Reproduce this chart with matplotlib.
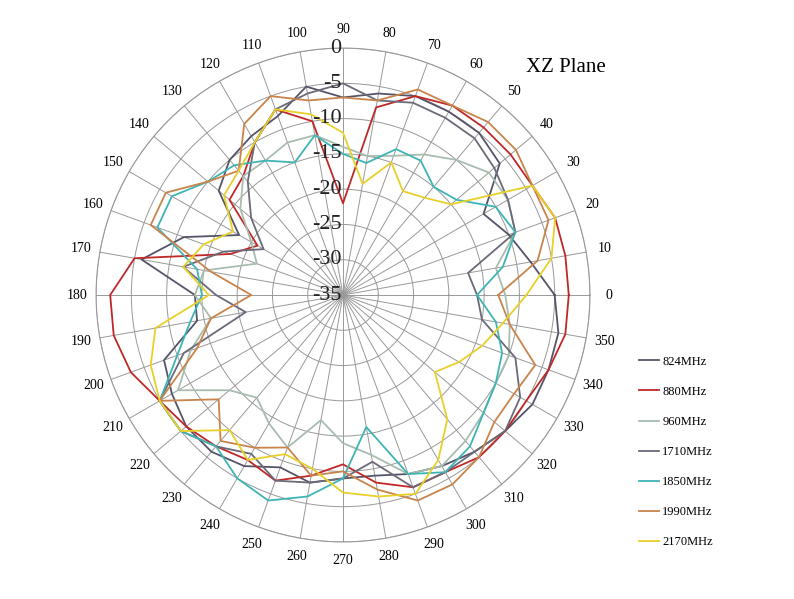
import numpy as np
import matplotlib.pyplot as plt

# angles in degrees, 0..350 step 10
angles = list(range(0, 360, 10))

# gain in dB, one value per angle
gain_824 = [-5, -8, -10, -12, -6, -5, -5, -5, -6, -7, -5, -8, -9, -10, -12, -18, -11, -6, -14, -14, -8, -7, -6, -6, -7, -9, -8, -9, -9, -8, -7, -6, -5, -4, -4, -4]
gain_880 = [-3, -3, -3, -4, -4, -4, -4, -5, -8, -22, -10, -7, -10, -13, -14, -21, -18, -5, -2, -2, -3, -5, -6, -7, -8, -7, -9, -11, -8, -6, -6, -5, -5, -5, -4, -3]
gain_960 = [-12, -13, -9, -8, -8, -10, -12, -14, -15, -14, -12, -12, -13, -13, -16, -20, -22, -15, -14, -16, -12, -8, -14, -16, -14, -12, -17, -14, -12, -8, -7, -8, -9, -10, -10, -11]
gain_1710 = [-16, -17, -9, -8, -7, -6, -6, -6, -7, -5, -6, -7, -10, -14, -18, -22, -17, -12, -17, -21, -11, -5, -5, -7, -9, -7, -8, -9, -11, -6, -6, -6, -5, -6, -9, -15]
gain_1850 = [-16, -12, -9, -10, -14, -15, -13, -13, -16, -15, -12, -15, -13, -11, -10, -7, -7, -14, -15, -13, -10, -5, -5, -7, -5, -4, -6, -9, -16, -8, -6, -7, -9, -10, -11, -13]
gain_1990 = [-13, -7, -4, -4, -3, -3, -4, -4, -7, -7, -7, -5, -7, -12, -10, -6, -6, -16, -22, -16, -13, -5, -12, -8, -10, -12, -9, -10, -7, -4, -4, -5, -7, -7, -6, -11]
gain_2170 = [-9, -5, -3, -4, -15, -17, -18, -15, -19, -12, -9, -7, -10, -12, -13, -17, -14, -12, -16, -8, -6, -5, -5, -10, -8, -11, -10, -7, -6, -5, -8, -12, -18, -16, -14, -12]

labels = ['824MHz', '880MHz', '960MHz', '1710MHz', '1850MHz', '1990MHz', '2170MHz']
colors = ['#55556a', '#c02828', '#a8bcb0', '#6a6a78', '#3fb4b4', '#c8844a', '#e8d028']
series = [gain_824, gain_880, gain_960, gain_1710, gain_1850, gain_1990, gain_2170]

serif = 'Liberation Serif'

fig = plt.figure(figsize=(7.94, 5.99), dpi=100)
ax = fig.add_axes([0.121, 0.095, 0.622, 0.825], projection='polar')

theta = np.deg2rad(angles + [angles[0]])
for vals, col, lab in zip(series, colors, labels):
    ax.plot(theta, vals + [vals[0]], color=col, lw=1.3, label=lab)

ax.set_ylim(-35, 0)
ax.set_yticks(range(-35, 1, 5))
ax.set_yticklabels([])
ax.set_thetagrids(range(0, 360, 10), [str(a) for a in range(0, 360, 10)],
                  fontsize=10, family=serif)
ax.tick_params(axis='x', pad=3)
ax.grid(color='#999999', lw=0.7)
ax.spines['polar'].set_color('#999999')
ax.spines['polar'].set_linewidth(0.8)

# radial value labels along the 90 degree spoke
for r in range(-35, 1, 5):
    ax.annotate(str(r), xy=(np.pi / 2, r), xytext=(-1, 0), textcoords='offset points',
                ha='right', va='center', fontsize=16, family=serif, color='#222222')

fig.text(0.713, 0.887, 'XZ Plane', fontsize=15, family=serif, ha='center', va='center')

leg = fig.legend(loc='upper left', bbox_to_anchor=(0.79, 0.425), frameon=False,
                 prop={'family': serif, 'size': 9}, handlelength=1.6,
                 labelspacing=1.45, handletextpad=0.3)

fig.savefig('out.png', dpi=100)
